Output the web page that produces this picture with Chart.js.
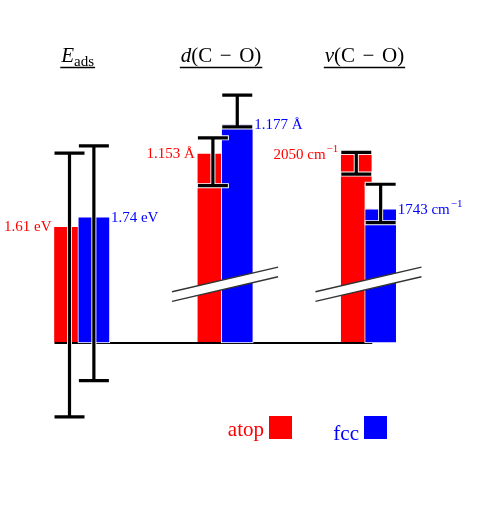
<!DOCTYPE html>
<html>
<head>
<meta charset="utf-8">
<script src="https://cdn.jsdelivr.net/npm/chart.js@4.4.1/dist/chart.umd.min.js"></script>
<style>
    html, body { margin: 0; padding: 0; background: #ffffff; }
    #wrap { width: 477px; height: 505px; }
</style>
</head>
<body>
<div id="wrap"><canvas id="bindingChart" width="477" height="505"></canvas></div>
<script>
// Kelompok besaran (judul kolom)
const groupLabels = ["E_ads", "d(C − O)", "ν(C − O)"];

// Nilai yang tertulis di samping batang
const atopValues = [1.61, 1.153, 2050];
const fccValues = [1.74, 1.177, 1743];
const unitMain = ["eV", "Å", "cm"];
const unitSup = ["", "", "−1"];

// Tinggi batang skematik (sumbu terputus, satuan bebas)
const atopHeights = [1.61, 2.62, 2.61];
const fccHeights = [1.74, 3.02, 1.85];

// Rentang error bar (bawah / atas) pada satuan yang sama
const atopErrLow = [-1.02, 2.17, 2.33];
const atopErrHigh = [2.62, 2.83, 2.63];
const fccErrLow = [-0.52, 2.98, 1.66];
const fccErrHigh = [2.72, 3.42, 2.19];

// Nama seri (legend)
const seriesNames = ["atop", "fcc"];

const RED = "#ff0000";
const BLUE = "#0000ff";
const SERIF = "'Liberation Serif', 'DejaVu Serif', serif";
const OFFSET = 0.085;      // geser batang atop/fcc dari tengah kelompok
const BAR_W = 32;
const BREAK_LEVEL = 0.81;  // posisi tanda patah sumbu

document.addEventListener("DOMContentLoaded", function () {
    var canvas = document.getElementById("bindingChart");
    var ctx = canvas.getContext("2d");

    function drawTitle(c, text, cx, baseY) {
        // huruf pertama miring, "_" = subskrip, spasi dibuat lebar
        var parts = [];
        var rest = text.slice(1);
        parts.push({ t: text.charAt(0), font: "italic 21px " + SERIF, dy: 0, gap: 0 });
        if (rest.charAt(0) === "_") {
            parts.push({ t: rest.slice(1), font: "15px " + SERIF, dy: 4, gap: 0 });
        } else {
            rest.split(" ").forEach(function (tok, k) {
                parts.push({ t: tok, font: "21px " + SERIF, dy: 0, gap: k > 0 ? 7.5 : 0 });
            });
        }
        var total = 0;
        parts.forEach(function (p) {
            c.font = p.font;
            p.w = c.measureText(p.t).width;
            total += p.w + p.gap;
        });
        var x = cx - total / 2;
        c.fillStyle = "#000";
        c.textAlign = "left";
        c.textBaseline = "alphabetic";
        parts.forEach(function (p) {
            c.font = p.font;
            x += p.gap;
            c.fillText(p.t, x, baseY + p.dy);
            x += p.w;
        });
        c.strokeStyle = "#000";
        c.lineWidth = 1.3;
        c.beginPath();
        c.moveTo(cx - total / 2 - 1, baseY + 5.5);
        c.lineTo(cx + total / 2 + 1, baseY + 5.5);
        c.stroke();
    }

    function drawValue(c, value, i, x, y, color, align) {
        var main = value + " " + unitMain[i];
        var sup = unitSup[i];
        c.font = "15px " + SERIF;
        var wMain = c.measureText(main).width;
        c.font = "11px " + SERIF;
        var wSup = sup ? c.measureText(sup).width + 1 : 0;
        var x0 = align === "right" ? x - wMain - wSup : x;
        c.fillStyle = color;
        c.textAlign = "left";
        c.textBaseline = "middle";
        c.font = "15px " + SERIF;
        c.fillText(main, x0, y + 1);
        if (sup) {
            c.font = "11px " + SERIF;
            c.fillText(sup, x0 + wMain + 1, y - 5);
        }
    }

    function drawErr(c, px, ys, lo, hi) {
        var yLo = ys.getPixelForValue(lo);
        var yHi = ys.getPixelForValue(hi);
        var passes = [["#ffffff", 5, 16], ["#000000", 3.2, 15]];
        passes.forEach(function (p) {
            c.strokeStyle = p[0];
            c.lineWidth = p[1];
            c.lineCap = "butt";
            c.beginPath();
            c.moveTo(px, yLo);
            c.lineTo(px, yHi);
            c.moveTo(px - p[2], yLo);
            c.lineTo(px + p[2], yLo);
            c.moveTo(px - p[2], yHi);
            c.lineTo(px + p[2], yHi);
            c.stroke();
        });
    }

    var schematicPlugin = {
        id: "schematic",
        afterDatasetDraw: function (chart, args) {
            if (args.index !== 1) return; // setelah batang atop
            var c = chart.ctx;
            var xs = chart.scales.x;
            var ys = chart.scales.y;
            c.save();
            // garis dasar menghubungkan batang
            var y0 = ys.getPixelForValue(0);
            c.strokeStyle = "#000";
            c.lineWidth = 2;
            c.beginPath();
            c.moveTo(xs.getPixelForValue(0 - OFFSET) - BAR_W / 2 + 1, y0);
            c.lineTo(xs.getPixelForValue(groupLabels.length - 1 - OFFSET) + BAR_W / 2, y0);
            c.stroke();
            // ruang putih di atas batang fcc sampai ujung error bar
            fccHeights.forEach(function (h, i) {
                if (fccErrHigh[i] <= h) return;
                var cx = xs.getPixelForValue(i + OFFSET);
                var top = ys.getPixelForValue(fccErrHigh[i]);
                c.fillStyle = "#ffffff";
                c.fillRect(cx - BAR_W / 2, top, BAR_W, ys.getPixelForValue(h) - top);
            });
            c.restore();
        },
        afterDatasetsDraw: function (chart) {
            var c = chart.ctx;
            var xs = chart.scales.x;
            var ys = chart.scales.y;
            c.save();

            // tanda patah sumbu (kelompok 2 dan 3)
            [1, 2].forEach(function (i) {
                var cx = xs.getPixelForValue(i);
                var cy = ys.getPixelForValue(BREAK_LEVEL);
                var half = 53;
                var rise = 12.3;
                var gap = 4.8;
                c.fillStyle = "#ffffff";
                c.beginPath();
                c.moveTo(cx - half, cy + rise - gap);
                c.lineTo(cx + half, cy - rise - gap);
                c.lineTo(cx + half, cy - rise + gap);
                c.lineTo(cx - half, cy + rise + gap);
                c.closePath();
                c.fill();
                c.strokeStyle = "#333333";
                c.lineWidth = 1.4;
                c.beginPath();
                c.moveTo(cx - half, cy + rise - gap);
                c.lineTo(cx + half, cy - rise - gap);
                c.moveTo(cx - half, cy + rise + gap);
                c.lineTo(cx + half, cy - rise + gap);
                c.stroke();
            });

            // error bar
            groupLabels.forEach(function (g, i) {
                drawErr(c, xs.getPixelForValue(i - OFFSET), ys, atopErrLow[i], atopErrHigh[i]);
                drawErr(c, xs.getPixelForValue(i + OFFSET), ys, fccErrLow[i], fccErrHigh[i]);
            });

            // label nilai
            groupLabels.forEach(function (g, i) {
                var xa = xs.getPixelForValue(i - OFFSET) - BAR_W / 2 - 2;
                drawValue(c, atopValues[i], i, xa, ys.getPixelForValue(atopHeights[i]), RED, "right");
                var xf = xs.getPixelForValue(i + OFFSET) + BAR_W / 2 + 1;
                drawValue(c, fccValues[i], i, xf, ys.getPixelForValue(fccHeights[i]), BLUE, "left");
            });

            // judul kolom
            groupLabels.forEach(function (g, i) {
                drawTitle(c, g, xs.getPixelForValue(i) - 4, 62);
            });

            // legend: teks lalu kotak warna
            var legendItems = [
                { name: seriesNames[0], color: RED, box: 269, base: 436 },
                { name: seriesNames[1], color: BLUE, box: 364, base: 440 },
            ];
            legendItems.forEach(function (it) {
                c.font = "21px " + SERIF;
                c.fillStyle = it.color;
                c.textAlign = "right";
                c.textBaseline = "alphabetic";
                c.fillText(it.name, it.box - 5, it.base);
                c.fillRect(it.box, 416, 23, 23);
            });

            c.restore();
        },
    };

    var myChart = new Chart(ctx, {
        type: "bar",
        data: {
            datasets: [
                {
                    label: seriesNames[1],
                    data: fccHeights.map(function (v, i) { return { x: i + OFFSET, y: v }; }),
                    backgroundColor: BLUE,
                    borderColor: "#ffffff",
                    borderWidth: 1,
                    borderSkipped: false,
                    barThickness: BAR_W,
                    grouped: false,
                    order: 1,
                },
                {
                    label: seriesNames[0],
                    data: atopHeights.map(function (v, i) { return { x: i - OFFSET, y: v }; }),
                    backgroundColor: RED,
                    borderColor: "#ffffff",
                    borderWidth: 1,
                    borderSkipped: false,
                    barThickness: BAR_W,
                    grouped: false,
                    order: 2,
                },
            ],
        },
        options: {
            responsive: false,
            animation: false,
            events: [],
            layout: { padding: { left: 10, right: 1, top: 53, bottom: 17 } },
            plugins: {
                legend: { display: false },
                tooltip: { enabled: false },
            },
            scales: {
                x: { type: "linear", min: -0.5, max: 2.75, offset: false, display: false },
                y: { type: "linear", min: -2, max: 4, display: false },
            },
        },
        plugins: [schematicPlugin],
    });
});
</script>
</body>
</html>
